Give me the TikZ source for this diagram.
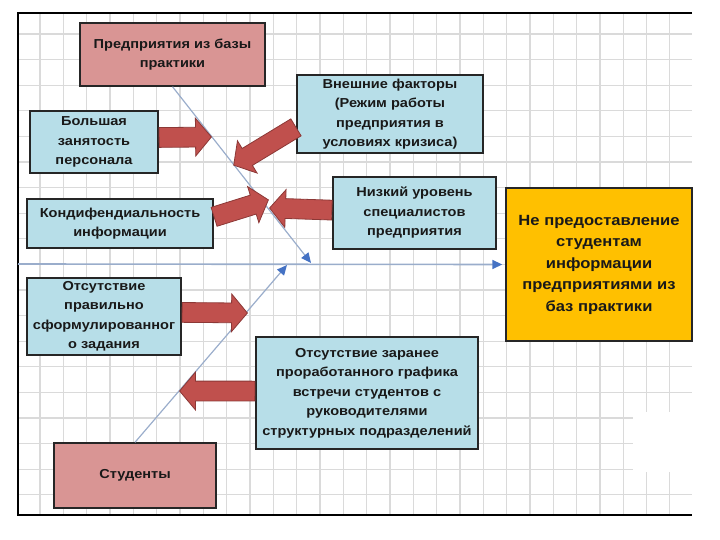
\documentclass[tikz,border=0pt]{standalone}
\usepackage{fontspec}
\usepackage{tikz}
\usetikzlibrary{arrows.meta, calc, shapes.arrows}
\newfontfamily\boxfont{Liberation Sans}[FakeStretch=1.12]

\definecolor{causeblue}{HTML}{B7DEE8}
\definecolor{sourcepink}{HTML}{D99594}
\definecolor{effectorange}{HTML}{FFC000}
\definecolor{arrowred}{HTML}{C0504D}
\definecolor{arrowdark}{HTML}{8C3836}
\definecolor{bonegray}{HTML}{9AADCB}
\definecolor{boneblue}{HTML}{4472C4}
\definecolor{gridgray}{HTML}{DADADA}

% fat red arrow from a box to a point on a bone
\newcommand{\causearrow}[2]{%
  \path let \p1=($(#2)-(#1)$), \n1={atan2(\y1,\x1)}, \n2={veclen(\x1,\y1)} in
    node[fatarr, minimum height=\n2, rotate=\n1, anchor=tail] at (#1) {};}

\begin{document}
\begin{tikzpicture}[
      x=1pt, y=-1pt,
      cause/.style={draw=black!85, line width=1.4pt, fill=causeblue,
                    align=center, inner sep=2pt, text=black!90,
                    font=\boxfont\bfseries\fontsize{13}{19.5}\selectfont},
      source/.style={cause, fill=sourcepink},
      effect/.style={cause, fill=effectorange,
                     font=\boxfont\bfseries\fontsize{14.8}{21.5}\selectfont},
      bone/.style={draw=bonegray, line width=1.2pt,
                   -{Triangle[length=10pt, width=9pt, color=boneblue]}},
      fatarr/.style={single arrow, draw=arrowdark, fill=arrowred,
                     line width=0.8pt, inner xsep=0pt, inner ysep=9.5pt,
                     single arrow head extend=9pt, single arrow tip angle=100},
      gridline/.style={draw=gridgray, line width=1.1pt},
  ]
  \useasboundingbox (0,0) rectangle (720,540);

  %% grid and frame
  \foreach \gx in {1,...,28}
    \draw[gridline] ({16.7+23.33*\gx},13) -- ({16.7+23.33*\gx},515);
  \foreach \gy in {0,...,18}
    \draw[gridline] (18,{34+25.6*\gy}) -- (692,{34+25.6*\gy});
  \fill[white] (633,412) rectangle (693,472);
  \draw[line width=1.5pt] (692,13) -- (18,13) -- (18,515) -- (692,515);

  %% boxes
  \node[source, minimum width=185, minimum height=63] (ent) at (172.5,54.5)
    {Предприятия из базы\\практики};
  \node[cause, minimum width=128, minimum height=62] (pers) at (94,142)
    {Большая\\занятость\\персонала};
  \node[cause, minimum width=186, minimum height=78] (ext) at (390,114)
    {Внешние факторы\\(Режим работы\\предприятия в\\условиях кризиса)};
  \node[cause, minimum width=186, minimum height=49] (konf) at (120,223.5)
    {Кондифендиальность\\информации};
  \node[cause, minimum width=163, minimum height=72] (nizk) at (414.5,213)
    {Низкий уровень\\специалистов\\предприятия};
  \node[effect, minimum width=186, minimum height=153] (res) at (599,264.5)
    {Не предоставление\\студентам\\информации\\предприятиями из\\баз практики};
  \node[cause, minimum width=154, minimum height=77] (zad) at (104,316.5)
    {Отсутствие\\правильно\\сформулированног\\о задания};
  \node[cause, minimum width=222, minimum height=112] (graf) at (367,393)
    {Отсутствие заранее\\проработанного графика\\встречи студентов с\\руководителями\\структурных подразделений};
  \node[source, minimum width=162, minimum height=65] (stud) at (135,475.5)
    {Студенты};

  %% bones
  \coordinate (sp0) at (18,264);
  \coordinate (j1) at (311,263);
  \coordinate (j2) at (287,265);
  \draw[bone, line width=1.6pt] (sp0) -- ([xshift=-3pt]res.west);
  \draw[bone] (ent.south) -- (j1);
  \draw[bone] (stud.north) -- (j2);

  %% fat arrows
  \coordinate (t1) at (211,137);
  \coordinate (t2) at (234,165);
  \coordinate (t3) at (268,200);
  \coordinate (t4) at (270,208);
  \coordinate (t5) at (247,313);
  \coordinate (t6) at (180,391);
  \causearrow{pers.4}{t1}
  \causearrow{ext.188}{t2}
  \causearrow{konf.4}{t3}
  \causearrow{nizk.178}{t4}
  \causearrow{zad.3}{t5}
  \causearrow{graf.179}{t6}

\end{tikzpicture}
\end{document}
